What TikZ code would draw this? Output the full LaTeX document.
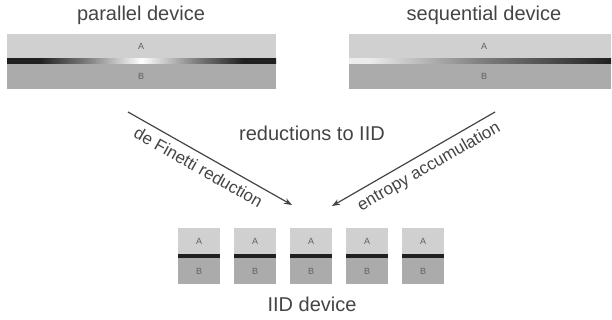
\documentclass[tikz,border=0pt]{standalone}
\usepackage{fontspec}
\setmainfont{Liberation Sans}
\usetikzlibrary{arrows.meta}
\definecolor{mygrayA}{RGB}{208,208,208}
\definecolor{mygrayB}{RGB}{171,171,171}
\definecolor{mytext}{RGB}{68,68,68}
\definecolor{myline}{RGB}{32,32,32}
% the path is mapped onto 25bp--75bp of the shading
\pgfdeclarehorizontalshading{parallelline}{100bp}{color(0bp)=(myline); color(31bp)=(myline); color(40bp)=(gray); color(50bp)=(white); color(60bp)=(gray); color(69bp)=(myline); color(100bp)=(myline)}
\pgfdeclarehorizontalshading{sequentialline}{100bp}{color(0bp)=(white); color(29bp)=(white!92!black); color(50bp)=(gray); color(75bp)=(myline); color(100bp)=(myline)}

\begin{document}
\begin{tikzpicture}[x=1pt,y=-1pt,
  title/.style={font=\fontsize{20}{24}\selectfont, text=mytext, inner sep=0pt, anchor=base},
  letter/.style={font=\fontsize{9}{11}\selectfont, text=mytext!85, inner sep=0pt},
  reduction/.style={-{Stealth[length=8pt,width=6pt]}, line width=1.2pt, draw=mytext},
  tag/.style={font=\fontsize{17}{20}\selectfont, text=mytext, sloped, below=3pt}]
  \useasboundingbox (0,0) rectangle (612,320);

  % Parallel device
  \fill[mygrayA] (7,34) rectangle (276,59);
  \fill[mygrayB] (7,64) rectangle (276,89);
  \shade[shading=parallelline] (7,59) rectangle (276,64);
  \node[title] (partitle) at (141,21) {parallel device};
  \node[letter] (parA) at (141,46.5) {A};
  \node[letter] (parB) at (141,76.5) {B};

  % Sequential device
  \fill[mygrayA] (349,34) rectangle (611,59);
  \fill[mygrayB] (349,64) rectangle (611,89);
  \shade[shading=sequentialline] (349,59) rectangle (611,64);
  \node[title] (seqtitle) at (484,21) {sequential device};
  \node[letter] (seqA) at (484,46.5) {A};
  \node[letter] (seqB) at (484,76.5) {B};

  % Reductions
  \node[title] (redtitle) at (312,141) {reductions to IID};
  \coordinate (finstart) at (128,112);
  \coordinate (finend) at (292,205);
  \coordinate (entstart) at (495,112);
  \coordinate (entend) at (332,206);
  \draw[reduction] (finstart) -- node[tag, pos=0.47] {de Finetti reduction} (finend);
  \draw[reduction] (entstart) -- node[tag, pos=0.45] {entropy accumulation} (entend);

  % IID device
  \foreach \i in {0,...,4} {
    \fill[mygrayA] (178+56*\i,228) rectangle (220+56*\i,254);
    \fill[mygrayB] (178+56*\i,258) rectangle (220+56*\i,284);
    \fill[myline] (178+56*\i,254) rectangle (220+56*\i,258);
    \node[letter] (iidA\i) at (199+56*\i,241) {A};
    \node[letter] (iidB\i) at (199+56*\i,271) {B};
  }
  \node[title] (iidtitle) at (312,311) {IID device};
\end{tikzpicture}
\end{document}
